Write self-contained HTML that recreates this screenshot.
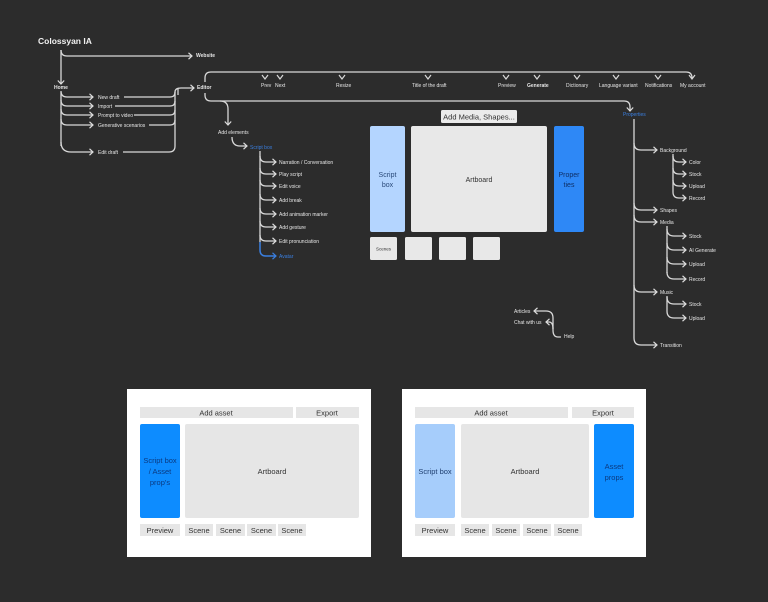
<!DOCTYPE html>
<html><head><meta charset="utf-8"><style>
html,body{margin:0;padding:0;background:#2c2c2c;}
svg{display:block;font-family:"Liberation Sans",sans-serif;}
</style></head><body>
<svg width="768" height="602" viewBox="0 0 768 602" xmlns="http://www.w3.org/2000/svg">
<defs>
<marker id="a" markerWidth="6" markerHeight="8" refX="4" refY="4" orient="auto" markerUnits="userSpaceOnUse"><path d="M0.5,0.8 L4,4 L0.5,7.2" fill="none" stroke="#ddd" stroke-width="1.2"/></marker>
<marker id="b" markerWidth="6" markerHeight="8" refX="4" refY="4" orient="auto" markerUnits="userSpaceOnUse"><path d="M0.5,0.8 L4,4 L0.5,7.2" fill="none" stroke="#3a7fe0" stroke-width="1.2"/></marker>
</defs>
<rect width="768" height="602" fill="#2c2c2c"/>
<g fill="none" stroke="#d8d8d8" stroke-width="1.3">
<path d="M61,50 V84" marker-end="url(#a)"/>
<path d="M61,50 Q61,56 67,56 H192" marker-end="url(#a)"/>
<path d="M61,92 V146"/>
<path d="M61,91 Q61,97 67,97 H93" marker-end="url(#a)"/>
<path d="M61,100 Q61,106 67,106 H93" marker-end="url(#a)"/>
<path d="M61,109 Q61,115 67,115 H93" marker-end="url(#a)"/>
<path d="M61,119 Q61,125 67,125 H93" marker-end="url(#a)"/>
<path d="M61,142 Q61,152 71,152 H93" marker-end="url(#a)"/>
<path d="M124,97 H170 Q175,97 175,92 Q175,88 181,88 H194" marker-end="url(#a)"/>
<path d="M115,106 H170 Q175,106 175,101"/>
<path d="M134,115 H170 Q175,115 175,110"/>
<path d="M149,125 H170 Q175,125 175,120"/>
<path d="M123,152 H169 Q175,152 175,146 V92"/>
<path d="M178,88 V95"/>
<path d="M205,82 V78 Q205,72 211,72 H686 Q692,72 692,78"/>
<path d="M205,93 V95 Q205,101 211,101 H624 Q630,101 630,107 V111" marker-end="url(#a)"/>
<path d="M220,101 Q228,101 228,109 V125" marker-end="url(#a)"/>
<path d="M232,137 Q232,146 240,146 H247" marker-end="url(#a)"/>
<path d="M260,151 V242"/>
<path d="M260,156 Q260,162 266,162 H276" marker-end="url(#a)"/>
<path d="M260,168 Q260,174 266,174 H276" marker-end="url(#a)"/>
<path d="M260,180 Q260,186 266,186 H276" marker-end="url(#a)"/>
<path d="M260,194 Q260,200 266,200 H276" marker-end="url(#a)"/>
<path d="M260,208 Q260,214 266,214 H276" marker-end="url(#a)"/>
<path d="M260,221 Q260,227 266,227 H276" marker-end="url(#a)"/>
<path d="M260,235 Q260,241 266,241 H276" marker-end="url(#a)"/>
<path d="M634,119 V338 Q634,345 641,345 H657" marker-end="url(#a)"/>
<path d="M634,143 Q634,150 641,150 H657" marker-end="url(#a)"/>
<path d="M634,203 Q634,210 641,210 H657" marker-end="url(#a)"/>
<path d="M634,215 Q634,222 641,222 H657" marker-end="url(#a)"/>
<path d="M634,285 Q634,292 641,292 H657" marker-end="url(#a)"/>
<path d="M673,154 V192"/>
<path d="M673,156 Q673,162 679,162 H686" marker-end="url(#a)"/>
<path d="M673,168 Q673,174 679,174 H686" marker-end="url(#a)"/>
<path d="M673,180 Q673,186 679,186 H686" marker-end="url(#a)"/>
<path d="M673,192 Q673,198 679,198 H686" marker-end="url(#a)"/>
<path d="M667,226 V273"/>
<path d="M667,229 Q667,236 674,236 H686" marker-end="url(#a)"/>
<path d="M667,243 Q667,250 674,250 H686" marker-end="url(#a)"/>
<path d="M667,257 Q667,264 674,264 H686" marker-end="url(#a)"/>
<path d="M667,272 Q667,279 674,279 H686" marker-end="url(#a)"/>
<path d="M667,296 V311"/>
<path d="M667,297 Q667,304 674,304 H686" marker-end="url(#a)"/>
<path d="M667,311 Q667,318 674,318 H686" marker-end="url(#a)"/>
<path d="M561,337 H558 Q553,337 553,330 V318 Q553,311 546,311 H534" marker-end="url(#a)"/>
<path d="M553,329 Q553,322 549,322 H546" marker-end="url(#a)"/>
</g>
<path d="M260,242 V250 Q260,256 266,256 H276" fill="none" stroke="#3a7fe0" stroke-width="1.5" marker-end="url(#b)"/>
<g fill="none" stroke="#d8d8d8" stroke-width="1.2">
<path d="M262,75 L265,79 L268,75"/><path d="M277,75 L280,79 L283,75"/>
<path d="M339,75 L342,79 L345,75"/><path d="M425,75 L428,79 L431,75"/>
<path d="M503,75 L506,79 L509,75"/><path d="M534,75 L537,79 L540,75"/>
<path d="M574,75 L577,79 L580,75"/><path d="M613,75 L616,79 L619,75"/>
<path d="M655,75 L658,79 L661,75"/><path d="M689,75 L692,79 L695,75"/>
</g>
<g fill="#e6e6e6" font-size="5">
<text x="38" y="44" font-size="8.5" font-weight="bold" fill="#f2f2f2">Colossyan IA</text>
<text x="196" y="57" font-weight="bold">Website</text>
<text x="54" y="89" font-weight="bold">Home</text>
<text x="98" y="99">New draft</text>
<text x="98" y="108">Import</text>
<text x="98" y="117">Prompt to video</text>
<text x="98" y="127">Generative scenarios</text>
<text x="98" y="154">Edit draft</text>
<text x="197" y="89" font-weight="bold">Editor</text>
<text x="261" y="87">Prev</text><text x="275" y="87">Next</text>
<text x="336" y="87">Resize</text>
<text x="412" y="87">Title of the draft</text>
<text x="498" y="87">Preview</text>
<text x="527" y="87" font-weight="bold">Generate</text>
<text x="566" y="87">Dictionary</text>
<text x="599" y="87">Language variant</text>
<text x="645" y="87">Notifications</text>
<text x="680" y="87">My account</text>
<text x="218" y="134">Add elements</text>
<text x="250" y="149" fill="#3a7fe0">Script box</text>
<text x="279" y="164">Narration / Conversation</text>
<text x="279" y="176">Play script</text>
<text x="279" y="188">Edit voice</text>
<text x="279" y="202">Add break</text>
<text x="279" y="216">Add animation marker</text>
<text x="279" y="229">Add gesture</text>
<text x="279" y="243">Edit pronunciation</text>
<text x="279" y="258" fill="#3a7fe0">Avatar</text>
<text x="623" y="116" fill="#3a7fe0">Properties</text>
<text x="660" y="152">Background</text>
<text x="689" y="164">Color</text><text x="689" y="176">Stock</text><text x="689" y="188">Upload</text><text x="689" y="200">Record</text>
<text x="660" y="212">Shapes</text><text x="660" y="224">Media</text>
<text x="689" y="238">Stock</text><text x="689" y="252">AI Generate</text><text x="689" y="266">Upload</text><text x="689" y="281">Record</text>
<text x="660" y="294">Music</text>
<text x="689" y="306">Stock</text><text x="689" y="320">Upload</text>
<text x="660" y="347">Transition</text>
<text x="514" y="313">Articles</text>
<text x="514" y="324">Chat with us</text>
<text x="564" y="338">Help</text>
</g>
<rect x="441" y="110" width="76" height="13" rx="1.5" fill="#ebebeb"/>
<text x="479" y="119.5" font-size="7.5" text-anchor="middle" fill="#333">Add Media, Shapes...</text>
<rect x="370" y="126" width="35" height="106" rx="2" fill="#b4d5ff"/>
<text x="387.5" y="177" font-size="7" text-anchor="middle" fill="#2a4a7a">Script</text>
<text x="387.5" y="187" font-size="7" text-anchor="middle" fill="#2a4a7a">box</text>
<rect x="411" y="126" width="136" height="106" rx="2" fill="#e8e8e8"/>
<text x="479" y="182" font-size="7" text-anchor="middle" fill="#333">Artboard</text>
<rect x="554" y="126" width="30" height="106" rx="2" fill="#2e88f6"/>
<text x="569" y="177" font-size="7" text-anchor="middle" fill="#0f2f66">Proper</text>
<text x="569" y="187" font-size="7" text-anchor="middle" fill="#0f2f66">ties</text>
<rect x="370" y="237" width="27" height="23" rx="1.5" fill="#e8e8e8"/>
<text x="383.5" y="250.5" font-size="4.5" text-anchor="middle" fill="#333">Scenes</text>
<rect x="405" y="237" width="27" height="23" rx="1.5" fill="#e8e8e8"/>
<rect x="439" y="237" width="27" height="23" rx="1.5" fill="#e8e8e8"/>
<rect x="473" y="237" width="27" height="23" rx="1.5" fill="#e8e8e8"/>
<g font-size="7.5" text-anchor="middle" fill="#333">
<rect x="127" y="389" width="244" height="168" fill="#ffffff"/>
<rect x="140" y="407" width="153" height="11" fill="#e6e6e6"/><text x="216" y="415.5">Add asset</text>
<rect x="296" y="407" width="63" height="11" fill="#e6e6e6"/><text x="327" y="415.5">Export</text>
<rect x="140" y="424" width="40" height="94" rx="2" fill="#0d8cff"/>
<text x="160" y="463" fill="#0b3a80">Script box</text><text x="160" y="474" fill="#0b3a80">/ Asset</text><text x="160" y="485" fill="#0b3a80">prop's</text>
<rect x="185" y="424" width="174" height="94" rx="2" fill="#e6e6e6"/><text x="272" y="474">Artboard</text>
<rect x="140" y="524" width="40" height="12" fill="#e6e6e6"/><text x="160" y="533">Preview</text>
<rect x="185" y="524" width="28" height="12" fill="#e6e6e6"/><text x="199" y="533">Scene</text>
<rect x="216" y="524" width="29" height="12" fill="#e6e6e6"/><text x="230.5" y="533">Scene</text>
<rect x="247" y="524" width="29" height="12" fill="#e6e6e6"/><text x="261.5" y="533">Scene</text>
<rect x="278" y="524" width="28" height="12" fill="#e6e6e6"/><text x="292" y="533">Scene</text>
<rect x="402" y="389" width="244" height="168" fill="#ffffff"/>
<rect x="415" y="407" width="153" height="11" fill="#e6e6e6"/><text x="491" y="415.5">Add asset</text>
<rect x="572" y="407" width="62" height="11" fill="#e6e6e6"/><text x="603" y="415.5">Export</text>
<rect x="415" y="424" width="40" height="94" rx="2" fill="#a6cdfb"/>
<text x="435" y="474" fill="#1f3f70">Script box</text>
<rect x="461" y="424" width="128" height="94" rx="2" fill="#e6e6e6"/><text x="525" y="474">Artboard</text>
<rect x="594" y="424" width="40" height="94" rx="2" fill="#0d8cff"/>
<text x="614" y="469" fill="#0b3a80">Asset</text><text x="614" y="480" fill="#0b3a80">props</text>
<rect x="415" y="524" width="40" height="12" fill="#e6e6e6"/><text x="435" y="533">Preview</text>
<rect x="461" y="524" width="28" height="12" fill="#e6e6e6"/><text x="475" y="533">Scene</text>
<rect x="492" y="524" width="28" height="12" fill="#e6e6e6"/><text x="506" y="533">Scene</text>
<rect x="523" y="524" width="28" height="12" fill="#e6e6e6"/><text x="537" y="533">Scene</text>
<rect x="554" y="524" width="28" height="12" fill="#e6e6e6"/><text x="568" y="533">Scene</text>
</g>
</svg>
</body></html>
